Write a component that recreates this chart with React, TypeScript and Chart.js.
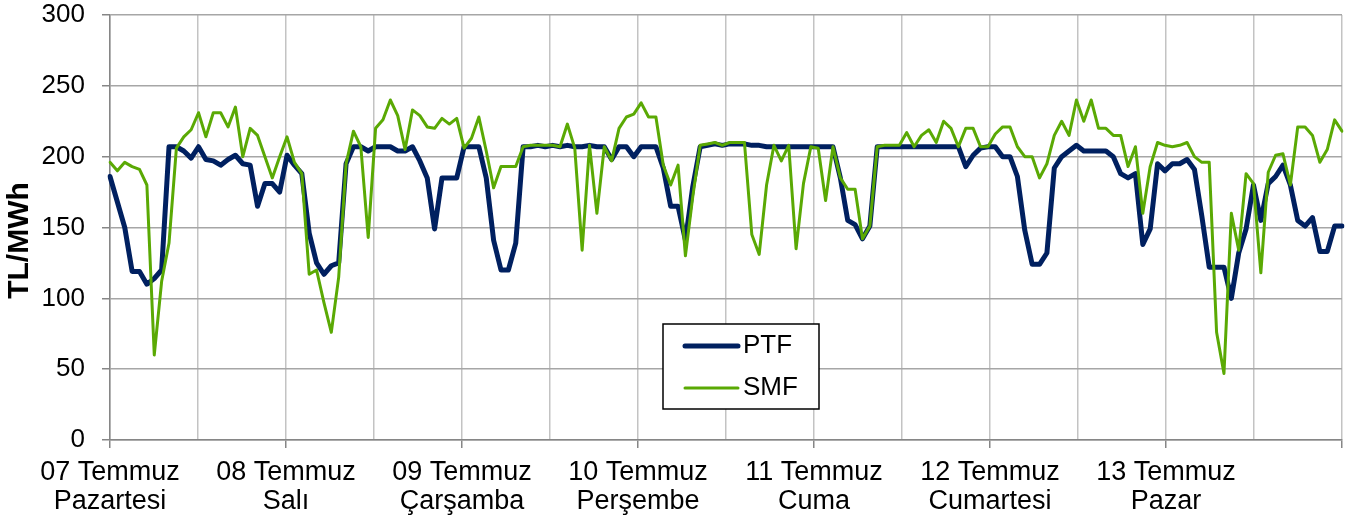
import React, { useEffect, useRef } from 'react';
import { Chart, registerables } from 'chart.js';

Chart.register(...registerables);

// ---- data ----
const dayDates = ['07 Temmuz', '08 Temmuz', '09 Temmuz', '10 Temmuz', '11 Temmuz', '12 Temmuz', '13 Temmuz'];
const dayNames = ['Pazartesi', 'Salı', 'Çarşamba', 'Perşembe', 'Cuma', 'Cumartesi', 'Pazar'];
const hoursInDay = Array.from({ length: 24 }, (_, h) => String(h).padStart(2, '0') + ':00');
const hourLabels = dayDates.flatMap((d) => hoursInDay.map((h) => d + ' ' + h));

const ptf = [
  186, 168, 150, 119, 119, 110, 114, 120, 207, 207, 204, 199, 207, 198, 197, 194, 198, 201, 195, 194, 165, 181, 181, 175,
  201, 194, 188, 146, 125, 117, 123, 125, 195, 207, 207, 204, 207, 207, 207, 204, 204, 207, 197, 185, 149, 185, 185, 185,
  207, 207, 207, 185, 141, 120, 120, 139, 207, 207, 208, 207, 208, 207, 208, 207, 207, 208, 207, 207, 198, 207, 207, 200,
  207, 207, 207, 192, 165, 165, 141, 179, 207, 208, 209, 208, 209, 209, 209, 208, 208, 207, 207, 207, 207, 207, 207, 207,
  207, 207, 207, 185, 155, 152, 142, 151, 207, 207, 207, 207, 207, 207, 207, 207, 207, 207, 207, 207, 193, 201, 206, 207,
  207, 200, 200, 186, 148, 124, 124, 132, 192, 200, 204, 208, 204, 204, 204, 204, 200, 188, 185, 188, 138, 149, 195, 190,
  195, 195, 198, 191, 158, 122, 122, 122, 100, 132, 149, 180, 155, 181, 186, 194, 180, 155, 151, 157, 133, 133, 151, 151,
];

const smf = [
  196, 190, 196, 193, 191, 180, 60, 112, 139, 206, 214, 219, 231, 214, 231, 231, 221, 235, 200, 220, 215, 200, 185, 200,
  214, 196, 188, 117, 120, 97, 76, 115, 195, 218, 207, 143, 220, 226, 240, 229, 205, 233, 229, 221, 220, 227, 223, 227,
  206, 213, 228, 204, 178, 193, 193, 193, 207, 208, 208, 208, 208, 207, 223, 206, 134, 208, 160, 207, 197, 220, 228, 230,
  238, 228, 228, 194, 180, 194, 130, 172, 208, 209, 210, 208, 210, 210, 210, 145, 131, 180, 208, 197, 208, 135, 181, 207,
  206, 169, 207, 185, 177, 177, 142, 151, 207, 208, 208, 208, 217, 207, 215, 219, 210, 225, 220, 207, 220, 220, 207, 207,
  216, 221, 221, 207, 200, 200, 185, 195, 215, 225, 215, 240, 225, 240, 220, 220, 215, 215, 193, 207, 160, 193, 210, 208,
  207, 208, 210, 200, 196, 196, 76, 47, 160, 134, 188, 181, 118, 189, 201, 202, 180, 221, 221, 215, 196, 205, 226, 218,
];

const seriesNames = ['PTF', 'SMF'];
const yAxisTitle = 'TL/MWh';
const yMin = 0;
const yMax = 300;
const yStep = 50;
const hoursPerDay = 24;
const gridStepHours = 12;

// ---- styles ----
const NAVY = '#002060';
const GREEN = '#5aa904';
const FONT = "'Liberation Sans', Arial, sans-serif";

const titlePlugin = {
  id: 'yTitle',
  afterDraw(chart: any) {
    const { ctx, chartArea } = chart;
    ctx.save();
    ctx.translate(20, (chartArea.top + chartArea.bottom) / 2 + 13);
    ctx.rotate(-Math.PI / 2);
    ctx.font = 'bold 30px ' + FONT;
    ctx.fillStyle = '#000';
    ctx.textAlign = 'center';
    ctx.textBaseline = 'middle';
    ctx.fillText(yAxisTitle, 0, 0);
    ctx.restore();
  },
};

const legendPlugin = {
  id: 'boxLegend',
  afterDraw(chart: any) {
    const { ctx } = chart;
    const bx = 663, by = 324, bw = 156, bh = 85;
    ctx.save();
    ctx.fillStyle = '#fff';
    ctx.fillRect(bx, by, bw, bh);
    ctx.strokeStyle = '#000';
    ctx.lineWidth = 1.5;
    ctx.strokeRect(bx, by, bw, bh);
    const rows = [346, 388];
    chart.data.datasets
      .slice()
      .sort((a: any, b: any) => a.legendIndex - b.legendIndex)
      .forEach((ds: any, i: number) => {
        const y = rows[i];
        ctx.strokeStyle = ds.borderColor;
        ctx.lineWidth = ds.borderWidth;
        ctx.lineCap = 'round';
        ctx.beginPath();
        ctx.moveTo(685, y);
        ctx.lineTo(738, y);
        ctx.stroke();
        ctx.fillStyle = '#000';
        ctx.font = '26px ' + FONT;
        ctx.textAlign = 'left';
        ctx.textBaseline = 'middle';
        ctx.fillText(ds.label, 743, y);
      });
    ctx.restore();
  },
};

export default function App() {
  const ref = useRef<HTMLCanvasElement>(null);

  useEffect(() => {
    const chart = new Chart(ref.current as HTMLCanvasElement, {
      type: 'line',
      data: {
        labels: hourLabels,
        datasets: [
          {
            label: seriesNames[1],
            data: smf,
            borderColor: GREEN,
            backgroundColor: GREEN,
            borderWidth: 3,
            pointRadius: 0,
            tension: 0,
            borderJoinStyle: 'round',
            borderCapStyle: 'round',
            xAxisID: 'x',
            order: 0,
            legendIndex: 1,
          } as any,
          {
            label: seriesNames[0],
            data: ptf,
            borderColor: NAVY,
            backgroundColor: NAVY,
            borderWidth: 5,
            pointRadius: 0,
            tension: 0,
            borderJoinStyle: 'round',
            borderCapStyle: 'round',
            xAxisID: 'x',
            order: 1,
            legendIndex: 0,
          } as any,
        ],
      },
      options: {
        animation: false,
        responsive: false,
        devicePixelRatio: 1,
        layout: { padding: { left: 0, right: 4, top: 15, bottom: 0 } },
        plugins: { legend: { display: false }, tooltip: { enabled: false } },
        scales: {
          x: { type: 'category', display: false, offset: false },
          days: {
            type: 'linear',
            position: 'bottom',
            min: 0,
            max: hourLabels.length,
            afterFit: (s: any) => {
              s.height = 78;
              s.paddingLeft = 0;
              s.paddingRight = 0;
            },
            ticks: {
              stepSize: gridStepHours,
              autoSkip: false,
              maxRotation: 0,
              minRotation: 0,
              padding: 10,
              color: '#000',
              font: { family: FONT, size: 27, lineHeight: 1.075 },
              callback: (v: any) => {
                const n = Number(v);
                if (n % hoursPerDay === 0 && n / hoursPerDay < dayDates.length) {
                  const d = n / hoursPerDay;
                  return [dayDates[d], dayNames[d]];
                }
                return '';
              },
            },
            grid: {
              color: '#c3c3c3',
              lineWidth: 1.5,
              tickLength: 8,
              tickColor: (c: any) => (c.tick && c.tick.value % hoursPerDay === 0 ? '#868686' : 'rgba(0,0,0,0)'),
            },
            border: { color: '#868686', width: 1.5 },
          } as any,
          y: {
            min: yMin,
            max: yMax,
            afterFit: (s: any) => {
              s.width = 110;
              s.paddingTop = 0;
              s.paddingBottom = 0;
            },
            ticks: {
              stepSize: yStep,
              padding: 17,
              color: '#000',
              font: { family: FONT, size: 26 },
            },
            grid: { color: '#a6a6a6', lineWidth: 1.5, tickLength: 8, tickColor: '#868686' },
            border: { color: '#868686', width: 1.5 },
          } as any,
        },
      },
      plugins: [titlePlugin, legendPlugin],
    });
    return () => chart.destroy();
  }, []);

  return (
    <div style={{ position: 'fixed', left: 0, top: 0, width: 1346, height: 518, background: '#fff' }}>
      <canvas ref={ref} width={1346} height={518} style={{ display: 'block', width: 1346, height: 518 }} />
    </div>
  );
}
